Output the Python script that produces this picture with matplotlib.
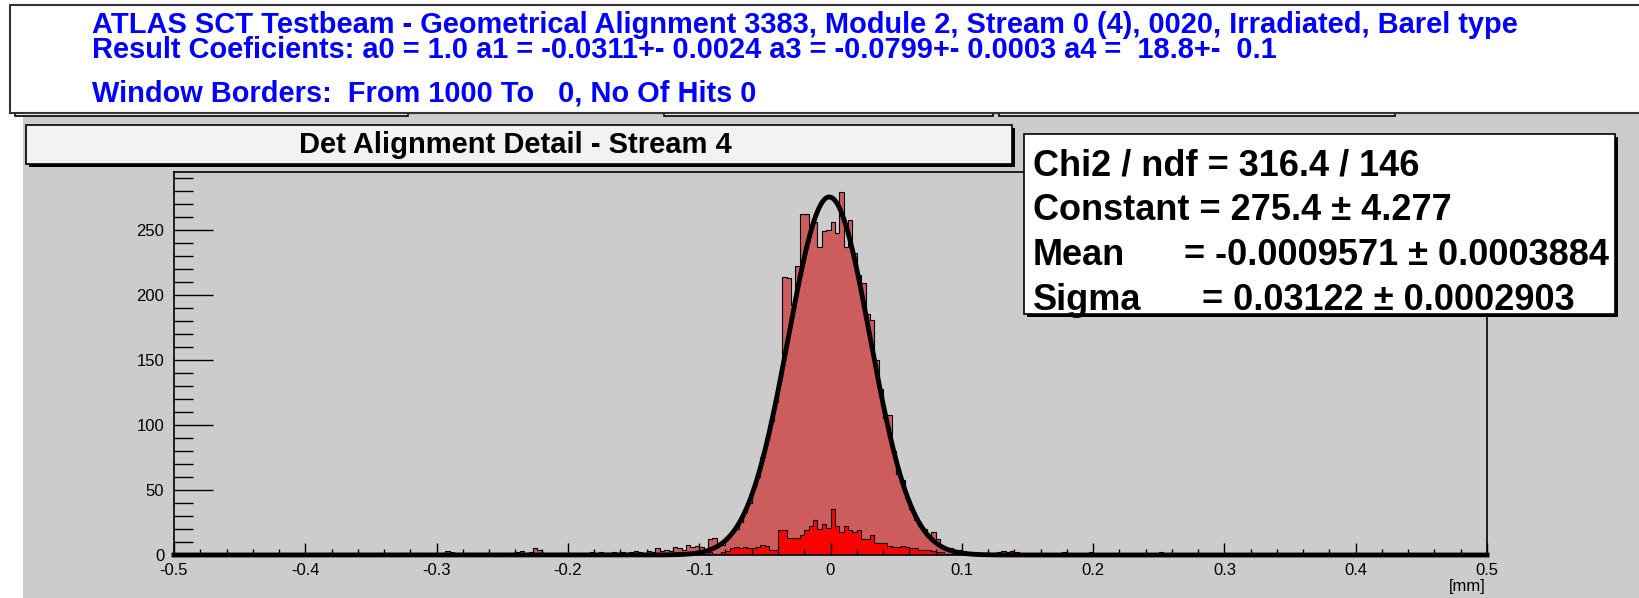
import numpy as np
import matplotlib
matplotlib.use("Agg")
import matplotlib.pyplot as plt
from matplotlib.patches import Rectangle
from matplotlib.ticker import MultipleLocator

W, H = 1639, 598

HEADER_LINES = [
    "ATLAS SCT Testbeam - Geometrical Alignment 3383, Module 2, Stream 0 (4), 0020, Irradiated, Barel type",
    "Result Coeficients: a0 = 1.0 a1 = -0.0311+- 0.0024 a3 = -0.0799+- 0.0003 a4 =  18.8+-  0.1",
    "Window Borders:  From 1000 To   0, No Of Hits 0",
]
TITLE = "Det Alignment Detail - Stream 4"

STAT_LABELS = ["Chi2 / ndf", "Constant", "Mean", "Sigma"]
STAT_VALUES = ["= 316.4 / 146", "= 275.4 \u00b1 4.277",
               "= -0.0009571 \u00b1 0.0003884", "= 0.03122 \u00b1 0.0002903"]

FIT_CONSTANT = 275.4
FIT_MEAN = -0.0009571
FIT_SIGMA = 0.03122

N_BINS = 300
X_MIN, X_MAX = -0.5, 0.5
FIRST_BIN = 60  # bins before this one are empty

# all hits, bins 60..239
ALL_HITS = [
    0, 0, 3, 2, 0, 0, 0, 1, 0, 0,
    0, 1, 0, 0, 1, 0, 1, 0, 2, 3,
    1, 2, 5, 4, 1, 0, 1, 0, 1, 0,
    0, 1, 1, 0, 1, 2, 1, 2, 1, 1,
    2, 1, 2, 1, 2, 3, 2, 1, 3, 2,
    5, 3, 4, 3, 6, 5, 4, 8, 6, 7,
    6, 4, 12, 13, 9, 8, 14, 18, 20, 25,
    33, 40, 52, 60, 75, 90, 103, 118, 135, 214,
    213, 192, 222, 262, 262, 253, 256, 237, 249, 250,
    256, 248, 279, 237, 258, 232, 215, 209, 185, 181,
    150, 128, 105, 108, 80, 62, 58, 44, 35, 27,
    22, 20, 15, 18, 12, 6, 5, 5, 4, 4,
    3, 2, 1, 2, 1, 1, 1, 0, 2, 3,
    2, 3, 2, 1, 1, 0, 1, 1, 0, 1,
    1, 0, 1, 2, 1, 0, 1, 0, 1, 2,
    1, 1, 0, 0, 1, 1, 0, 1, 0, 0,
    1, 0, 1, 0, 1, 2, 1, 0, 1, 1,
    0, 0, 0, 0, 0, 1, 1, 0, 1, 0,
]

# hits of stream 4 only, same bins
STREAM_HITS = [
    0, 0, 0, 0, 0, 0, 0, 0, 0, 0,
    0, 0, 0, 0, 1, 0, 0, 0, 0, 0,
    0, 0, 0, 0, 0, 0, 0, 0, 0, 0,
    0, 0, 1, 0, 0, 0, 0, 0, 0, 0,
    0, 0, 0, 0, 0, 0, 0, 0, 0, 0,
    0, 0, 0, 0, 1, 2, 1, 0, 0, 0,
    0, 1, 2, 1, 1, 2, 3, 5, 6, 5,
    6, 5, 5, 6, 8, 7, 4, 4, 19, 19,
    13, 13, 13, 15, 19, 22, 27, 20, 24, 21,
    35, 22, 18, 22, 19, 18, 19, 12, 12, 15,
    9, 9, 9, 7, 6, 6, 7, 6, 5, 5,
    4, 4, 4, 3, 2, 2, 1, 1, 1, 0,
    0, 0, 0, 1, 0, 0, 0, 0, 1, 0,
    0, 3, 0, 0, 1, 0, 0, 0, 0, 0,
    0, 0, 0, 0, 0, 0, 0, 0, 0, 0,
    0, 0, 0, 0, 0, 0, 0, 0, 0, 0,
    0, 0, 0, 0, 0, 0, 0, 0, 0, 0,
    0, 0, 0, 0, 0, 0, 0, 0, 0, 0,
]

X_TICKS = [-0.5, -0.4, -0.3, -0.2, -0.1, 0.0, 0.1, 0.2, 0.3, 0.4, 0.5]
X_TICK_LABELS = ["-0.5", "-0.4", "-0.3", "-0.2", "-0.1", "0",
                 "0.1", "0.2", "0.3", "0.4", "0.5"]
Y_TICKS = [0, 50, 100, 150, 200, 250]

GRAY = "#cccccc"
PAD_FILL = "#f2f2f2"
ALL_COLOR = "#cd5c5c"
STREAM_COLOR = "#ff0000"
HEADER_BLUE = "#0000ff"


def main():
    plt.rcParams["font.family"] = ["Liberation Sans", "DejaVu Sans"]
    plt.rcParams["axes.unicode_minus"] = False

    fig = plt.figure(figsize=(W / 100, H / 100), dpi=100)
    fig.patch.set_facecolor("white")

    def box(x0, y0, x1, y1, zorder, shadow=0, **kw):
        # box given in pixels, measured from the top left corner
        if shadow:
            fig.add_artist(Rectangle(((x0 + shadow) / W, 1 - (y1 + shadow) / H),
                                     (x1 - x0) / W, (y1 - y0) / H,
                                     transform=fig.transFigure, facecolor="black",
                                     edgecolor="none", zorder=zorder - 0.1))
        fig.add_artist(Rectangle((x0 / W, 1 - y1 / H), (x1 - x0) / W, (y1 - y0) / H,
                                 transform=fig.transFigure, zorder=zorder, **kw))

    def text(x, y, s, **kw):
        fig.text(x / W, 1 - y / H, s, **kw)

    # canvas background and the pads hidden behind the header
    box(23, 113, W + 5, H + 5, -10, facecolor=GRAY, edgecolor="none")
    for x0, x1 in [(15, 408), (664, 993), (999, 1395)]:
        box(x0, 100, x1, 116, -5, facecolor=PAD_FILL, edgecolor="black", linewidth=1.2)

    # header: the first two lines sit very close, as one block
    box(10, 5, W + 20, 113, 2, facecolor="white", edgecolor="#333333", linewidth=1.5)
    text(92, 57.5, HEADER_LINES[0] + "\n" + HEADER_LINES[1], color=HEADER_BLUE,
         fontsize=20.9, fontweight="bold", va="baseline", linespacing=0.82, zorder=3)
    text(92, 101, HEADER_LINES[2], color=HEADER_BLUE, fontsize=20.9,
         fontweight="bold", va="baseline", zorder=3)

    # histogram title
    box(26, 125, 1012, 164, 4, shadow=3, facecolor=PAD_FILL, edgecolor="black",
        linewidth=1.2)
    text(515, 145, TITLE, fontsize=21, fontweight="bold", ha="center", va="center",
         zorder=5)

    # fit statistics
    box(1024, 134, 1615, 314, 4, shadow=3, facecolor="white", edgecolor="black",
        linewidth=1.2)
    value_x = [None, None, 1184, 1202]
    for i, (label, value) in enumerate(zip(STAT_LABELS, STAT_VALUES)):
        y = 166 + i * 44.7
        if value_x[i] is None:
            text(1033, y, label + " " + value, fontsize=26, fontweight="bold",
                 va="center", zorder=5)
        else:
            text(1033, y, label, fontsize=26, fontweight="bold", va="center", zorder=5)
            text(value_x[i], y, value, fontsize=26, fontweight="bold", va="center",
                 zorder=5)

    ax = fig.add_axes([174 / W, 1 - 555 / H, 1313 / W, 383 / H])
    ax.set_facecolor(GRAY)

    edges = np.linspace(X_MIN, X_MAX, N_BINS + 1)
    all_hits = np.zeros(N_BINS)
    all_hits[FIRST_BIN:FIRST_BIN + len(ALL_HITS)] = ALL_HITS
    stream_hits = np.zeros(N_BINS)
    stream_hits[FIRST_BIN:FIRST_BIN + len(STREAM_HITS)] = STREAM_HITS

    ax.stairs(all_hits, edges, fill=True, color=ALL_COLOR)
    ax.stairs(all_hits, edges, color="black", linewidth=0.8)
    ax.stairs(stream_hits, edges, fill=True, color=STREAM_COLOR)
    ax.stairs(stream_hits, edges, color="black", linewidth=0.8)

    xs = np.linspace(X_MIN, X_MAX, 2001)
    fit = FIT_CONSTANT * np.exp(-0.5 * ((xs - FIT_MEAN) / FIT_SIGMA) ** 2)
    ax.plot(xs, fit, color="black", linewidth=3.5, clip_on=False)

    ax.set_xlim(X_MIN, X_MAX)
    ax.set_ylim(0, 294.6)
    ax.set_xticks(X_TICKS)
    ax.set_xticklabels(X_TICK_LABELS)
    ax.set_yticks(Y_TICKS)
    ax.xaxis.set_minor_locator(MultipleLocator(0.02))
    ax.yaxis.set_minor_locator(MultipleLocator(10))
    ax.tick_params(axis="x", which="major", direction="in", length=8.6, width=1,
                   pad=5.5, labelsize=12)
    ax.tick_params(axis="x", which="minor", direction="in", length=4.3, width=1)
    ax.tick_params(axis="y", which="major", direction="in", length=28, width=1,
                   pad=7, labelsize=12)
    ax.tick_params(axis="y", which="minor", direction="in", length=14, width=1)
    for spine in ax.spines.values():
        spine.set_linewidth(1.2)

    text(1486, 586, "[mm]", fontsize=12, ha="right", va="center")

    fig.savefig("out.png", dpi=100)


if __name__ == "__main__":
    main()
